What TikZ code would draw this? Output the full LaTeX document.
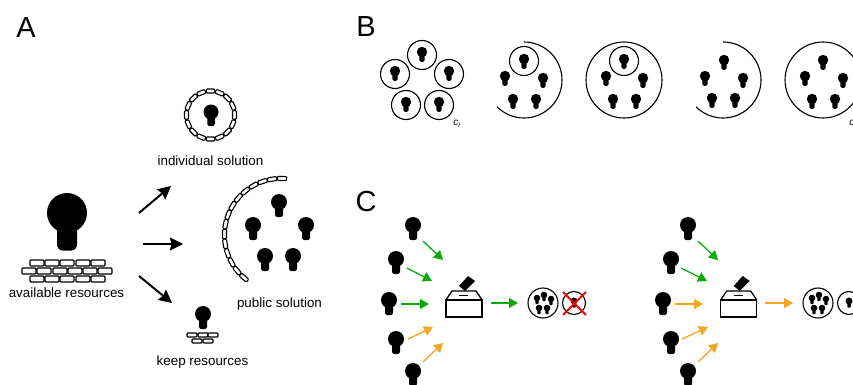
\documentclass[tikz,border=0pt]{standalone}
\usepackage{xcolor}
\usepackage{fontspec}
\setmainfont{Liberation Sans}
\usetikzlibrary{arrows.meta}
\definecolor{votegreen}{RGB}{10,170,10}
\definecolor{voteorange}{RGB}{245,166,35}
\tikzset{
  brick/.style={draw=black,fill=white,line width=1.1pt,rounded corners=1pt},
  teamline/.style={draw=black,line width=1.1pt},
  bigarrow/.style={line width=2pt,-{Stealth[length=13pt,width=13pt,inset=1.5pt]}},
  votearrow/.style={line width=1.3pt,-{Stealth[length=9pt,width=10pt,inset=0pt]}},
  label/.style={font=\fontsize{13.4}{15}\selectfont,inner sep=0pt},
  panel/.style={font=\fontsize{29}{32}\selectfont,inner sep=0pt},
  citext/.style={font=\itshape\fontsize{10}{11}\selectfont,inner sep=0pt}
}
\newcommand{\person}[3]{
  \fill (#1,#2) circle (#3);
  \fill[shift={(#1,#2)},rounded corners=0.3*#3 pt] (-0.5*#3,0) rectangle (0.5*#3,1.88*#3);
}
\newcommand{\brickat}[4]{
  \draw[brick] (#1-#3/2,#2-#4/2) rectangle (#1+#3/2,#2+#4/2);
}
\newcommand{\ringbrick}[6]{
  \draw[brick,shift={(#1,#2)},rotate=#4] (#3-#6/2,-#5/2) rectangle (#3+#6/2,#5/2);
}
\newcommand{\votearr}[6]{
  \coordinate (#1s) at (#3,#4);
  \coordinate (#1e) at (#5,#6);
  \draw[votearrow,#2] (#1s) -- (#1e);
}
\newcommand{\ballotbox}[1]{
  \begin{scope}[shift={(#1,0)}]
  \draw[line width=1.3pt] (446,300) rectangle (482,317);
  \draw[line width=1.3pt] (446,300) -- (452,291) -- (476,291) -- (482,300);
  \draw[line width=1pt] (459,295) -- (468,295);
  \fill (459,286) -- (468,276) -- (475,281) -- (465,291) -- cycle;
  \end{scope}
}
\newcommand{\minigroup}[2]{
  \draw[teamline] (#1,#2) circle (15);
  \foreach \x/\y in {-6/-5,1/-8,8/-4,-4/5,4/5} \person{#1+\x}{#2+\y}{3.3};
}
\begin{document}
\begin{tikzpicture}[x=1pt,y=-1pt]
\clip (0,0) rectangle (853,385);
\fill[white] (0,0) rectangle (853,385);

\node[panel] (panelA) at (26,28) {A};
\node[panel] (panelB) at (366,27) {B};
\node[panel] (panelC) at (366,202) {C};

% available resources
\person{67}{213}{20}
\foreach \x in {37,52,67,83,98} {
  \brickat{\x}{263}{14}{6}
  \brickat{\x}{279}{14}{6}
}
\foreach \x in {29,44,60,75,90,105} \brickat{\x}{271}{14}{6};
\node[label] (available) at (66.5,293) {available resources};

\coordinate (a1s) at (139,213);
\coordinate (a1e) at (171,186);
\coordinate (a2s) at (143,244);
\coordinate (a2e) at (183,244);
\coordinate (a3s) at (139,276);
\coordinate (a3e) at (172,303);
\draw[bigarrow] (a1s) -- (a1e);
\draw[bigarrow] (a2s) -- (a2e);
\draw[bigarrow] (a3s) -- (a3e);

% individual solution
\foreach \a in {0,22.5,...,337.5} \ringbrick{210.5}{115}{24}{\a}{8.6}{4};
\person{211}{112}{7.5}
\node[label] (individual) at (210.5,160.5) {individual solution};

% public solution
\foreach \a in {89,99,...,229} \ringbrick{281}{235}{56.5}{\a}{9.4}{4};
\foreach \x/\y in {279/202,253/225,306/225,265/256,293/256} \person{\x}{\y}{8};
\node[label] (public) at (279.5,304) {public solution};

% keep resources
\person{203}{314}{8}
\foreach \x in {192,203,213} \brickat{\x}{335}{10}{4};
\foreach \x in {197,208} \brickat{\x}{341}{10}{4};
\node[label] (keep) at (202.5,362) {keep resources};

% B
\foreach \x/\y in {422/55,395/74,449/74,406/105,439/105} {
  \draw[teamline] (\x,\y) circle (14.5);
  \person{\x}{\y-3}{5.2}
}
\node[citext] (ci1) at (457,124) {c\textsubscript{i}};

\draw[teamline] (524,42) arc (-90:135:38);
\draw[teamline] (524,61) circle (14.5);
\foreach \x/\y in {524/59,505/76,543/78,513/99,536/99} \person{\x}{\y}{5.2};

\draw[teamline] (624,80) circle (38);
\draw[teamline] (624,61) circle (14.5);
\foreach \x/\y in {624/59,606/76,643/78,613/99,636/99} \person{\x}{\y}{5.2};

\draw[teamline] (723,42) arc (-90:135:38);
\foreach \x/\y in {724/60,705/76,743/78,712/98,735/98} \person{\x}{\y}{5.2};

\draw[teamline] (823,80) circle (38);
\foreach \x/\y in {823/60,805/76,843/78,812/99,835/99} \person{\x}{\y}{5.2};
\node[citext] (ci2) at (853,124) {c\textsubscript{i}};

% C
\foreach \x/\y in {413/225,396/259,389/300,396/339,413/371,688/225,671/259,663/300,671/339,688/371} \person{\x}{\y}{8};

\votearr{ga}{votegreen}{423}{241}{443}{260}
\votearr{gb}{votegreen}{407}{268}{432}{281}
\votearr{gc}{votegreen}{401}{304}{429}{304}
\votearr{oa}{voteorange}{408}{339}{433}{327}
\votearr{ob}{voteorange}{423}{362}{443}{343}
\votearr{gd}{votegreen}{491}{303}{518}{303}

\votearr{ge}{votegreen}{698}{241}{718}{260}
\votearr{gf}{votegreen}{681}{268}{707}{281}
\votearr{oc}{voteorange}{675}{304}{703}{304}
\votearr{od}{voteorange}{682}{339}{708}{327}
\votearr{oe}{voteorange}{698}{362}{718}{343}
\votearr{of}{voteorange}{765}{303}{793}{303}

\ballotbox{0}
\ballotbox{274.7}

\minigroup{543}{303}
\draw[teamline] (574,303) circle (11.5);
\person{574}{301}{3.5}
\draw[red,line width=2pt] (563,292) -- (586,315) (586,292) -- (563,315);

\minigroup{818}{303}
\draw[teamline] (849,303) circle (11.5);
\person{849}{301}{3.5}
\end{tikzpicture}
\end{document}
